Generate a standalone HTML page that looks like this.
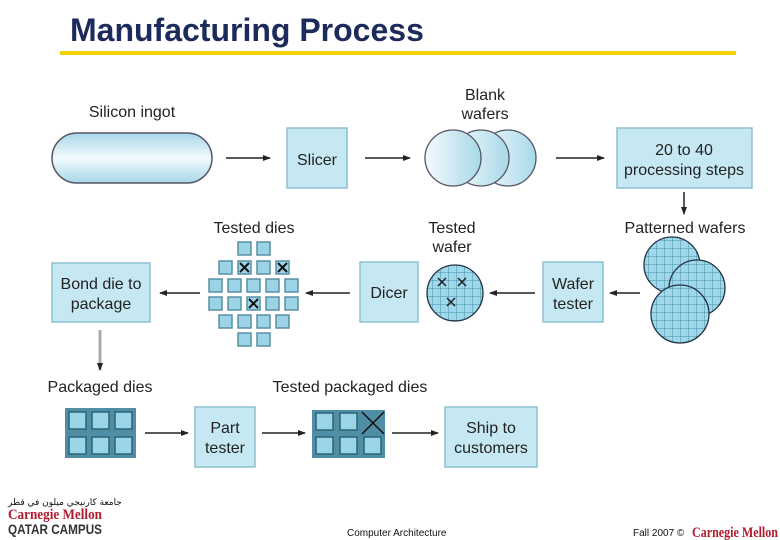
<!DOCTYPE html>
<html><head><meta charset="utf-8"><style>
html,body{margin:0;padding:0;background:#fff;}
svg{display:block;font-family:"Liberation Sans",sans-serif;}
</style></head><body>
<svg width="780" height="540" viewBox="0 0 780 540" xmlns="http://www.w3.org/2000/svg">
<defs>
<marker id="ah" markerWidth="8" markerHeight="6" refX="7" refY="3" orient="auto" markerUnits="userSpaceOnUse"><path d="M0,0 L8,3 L0,6 z" fill="#222"/></marker>
<linearGradient id="ing" x1="0" y1="0" x2="0" y2="1"><stop offset="0" stop-color="#a8d8e8"/><stop offset="0.5" stop-color="#f2fafd"/><stop offset="1" stop-color="#a8d8e8"/></linearGradient>
<linearGradient id="waf" x1="0" y1="0" x2="1" y2="0"><stop offset="0" stop-color="#f4fbfd"/><stop offset="1" stop-color="#a8d8e8"/></linearGradient>
<pattern id="grid" width="8" height="8" patternUnits="userSpaceOnUse"><rect width="8" height="8" fill="#9fd8ea"/><path d="M0,0 H8 M0,0 V8" stroke="#4a8fa8" stroke-width="1"/></pattern>
</defs>
<text x="70" y="41" font-size="32" font-weight="bold" fill="#1c2a5c">Manufacturing Process</text>
<rect x="60" y="51" width="676" height="4" fill="#f2d200"/>
<g fill="#222" font-size="16" text-anchor="middle">
<text x="132" y="117">Silicon ingot</text>
<text x="485" y="100">Blank</text><text x="485" y="119">wafers</text>
<text x="254" y="233">Tested dies</text>
<text x="452" y="233">Tested</text><text x="452" y="252">wafer</text>
<text x="685" y="233">Patterned wafers</text>
<text x="100" y="392">Packaged dies</text>
<text x="350" y="392">Tested packaged dies</text>
</g>
<rect x="52" y="133" width="160" height="50" rx="25" fill="url(#ing)" stroke="#556" stroke-width="1.5"/>
<g fill="#c6e8f3" stroke="#8fc0d0" stroke-width="1.5">
<rect x="287" y="128" width="60" height="60"/>
<rect x="617" y="128" width="135" height="60"/>
<rect x="543" y="262" width="60" height="60"/>
<rect x="360" y="262" width="58" height="60"/>
<rect x="52" y="263" width="98" height="59"/>
<rect x="195" y="407" width="60" height="60"/>
<rect x="445" y="407" width="92" height="60"/>
</g>
<g fill="#222" font-size="16" text-anchor="middle">
<text x="317" y="165">Slicer</text>
<text x="684" y="155">20 to 40</text><text x="684" y="175">processing steps</text>
<text x="573" y="289">Wafer</text><text x="573" y="309">tester</text>
<text x="389" y="298">Dicer</text>
<text x="101" y="289">Bond die to</text><text x="101" y="309">package</text>
<text x="225" y="433">Part</text><text x="225" y="453">tester</text>
<text x="491" y="433">Ship to</text><text x="491" y="453">customers</text>
</g>
<g fill="url(#waf)" stroke="#556" stroke-width="1.3">
<circle cx="508" cy="158" r="28"/><circle cx="481" cy="158" r="28"/><circle cx="453" cy="158" r="28"/>
</g>
<g fill="url(#grid)" stroke="#234" stroke-width="1.3">
<circle cx="672" cy="265" r="28"/><circle cx="697" cy="288" r="28"/><circle cx="680" cy="314" r="29"/>
<circle cx="455" cy="293" r="28"/>
</g>
<g stroke="#222" stroke-width="1.5">
<path d="M438,278 l8,8 M446,278 l-8,8 M458,278 l8,8 M466,278 l-8,8 M447,298 l8,8 M455,298 l-8,8"/>
</g>
<g stroke="#222" stroke-width="1.5" fill="none" marker-end="url(#ah)">
<line x1="226" y1="158" x2="270" y2="158"/>
<line x1="365" y1="158" x2="410" y2="158"/>
<line x1="556" y1="158" x2="604" y2="158"/>
<line x1="684" y1="192" x2="684" y2="214"/>
<line x1="640" y1="293" x2="610" y2="293"/>
<line x1="535" y1="293" x2="490" y2="293"/>
<line x1="350" y1="293" x2="306" y2="293"/>
<line x1="200" y1="293" x2="160" y2="293"/>
<line x1="100" y1="330" x2="100" y2="370" stroke="#aaa" stroke-width="3"/>
<line x1="145" y1="433" x2="188" y2="433"/>
<line x1="262" y1="433" x2="305" y2="433"/>
<line x1="392" y1="433" x2="438" y2="433"/>
</g>
<g fill="#9ad4e6" stroke="#5a8fa2" stroke-width="1.5">
<rect x="238" y="242" width="13" height="13"/><rect x="257" y="242" width="13" height="13"/>
<rect x="219" y="261" width="13" height="13"/><rect x="238" y="261" width="13" height="13"/><rect x="257" y="261" width="13" height="13"/><rect x="276" y="261" width="13" height="13"/>
<rect x="209" y="279" width="13" height="13"/><rect x="228" y="279" width="13" height="13"/><rect x="247" y="279" width="13" height="13"/><rect x="266" y="279" width="13" height="13"/><rect x="285" y="279" width="13" height="13"/>
<rect x="209" y="297" width="13" height="13"/><rect x="228" y="297" width="13" height="13"/><rect x="247" y="297" width="13" height="13"/><rect x="266" y="297" width="13" height="13"/><rect x="285" y="297" width="13" height="13"/>
<rect x="219" y="315" width="13" height="13"/><rect x="238" y="315" width="13" height="13"/><rect x="257" y="315" width="13" height="13"/><rect x="276" y="315" width="13" height="13"/>
<rect x="238" y="333" width="13" height="13"/><rect x="257" y="333" width="13" height="13"/>
</g>
<g stroke="#111" stroke-width="2">
<path d="M240,263 l9,9 M249,263 l-9,9 M278,263 l9,9 M287,263 l-9,9 M249,299 l9,9 M258,299 l-9,9"/>
</g>
<g>
<rect x="65" y="408" width="71" height="50" fill="#4f8ea4"/>
<rect x="312" y="410" width="73" height="48" fill="#4f8ea4"/>
<g fill="#9ad4e6" stroke="#2c6478" stroke-width="1.5">
<rect x="69" y="412" width="17" height="17"/><rect x="92" y="412" width="17" height="17"/><rect x="115" y="412" width="17" height="17"/>
<rect x="69" y="437" width="17" height="17"/><rect x="92" y="437" width="17" height="17"/><rect x="115" y="437" width="17" height="17"/>
<rect x="316" y="413" width="17" height="17"/><rect x="340" y="413" width="17" height="17"/>
<rect x="316" y="437" width="17" height="17"/><rect x="340" y="437" width="17" height="17"/><rect x="364" y="437" width="17" height="17"/>
</g>
<path d="M362,412 l22,22 M384,412 l-22,22" stroke="#111" stroke-width="1.5"/>
</g>
<text x="8" y="505" font-size="9" fill="#111" font-family="'DejaVu Sans',sans-serif">جامعة كارنيجي ميلون في قطر</text>
<text x="8" y="519" font-size="15" font-weight="bold" fill="#b01c2e" font-family="'Liberation Serif',serif" textLength="94" lengthAdjust="spacingAndGlyphs">Carnegie Mellon</text>
<text x="8" y="534" font-size="14" font-weight="bold" fill="#333" textLength="94" lengthAdjust="spacingAndGlyphs">QATAR CAMPUS</text>
<text x="347" y="536" font-size="10" fill="#111">Computer Architecture</text>
<text x="633" y="536" font-size="10" fill="#111">Fall 2007 ©</text>
<text x="692" y="537" font-size="15" font-weight="bold" fill="#b01c2e" font-family="'Liberation Serif',serif" textLength="86" lengthAdjust="spacingAndGlyphs">Carnegie Mellon</text>
</svg>
</body></html>
